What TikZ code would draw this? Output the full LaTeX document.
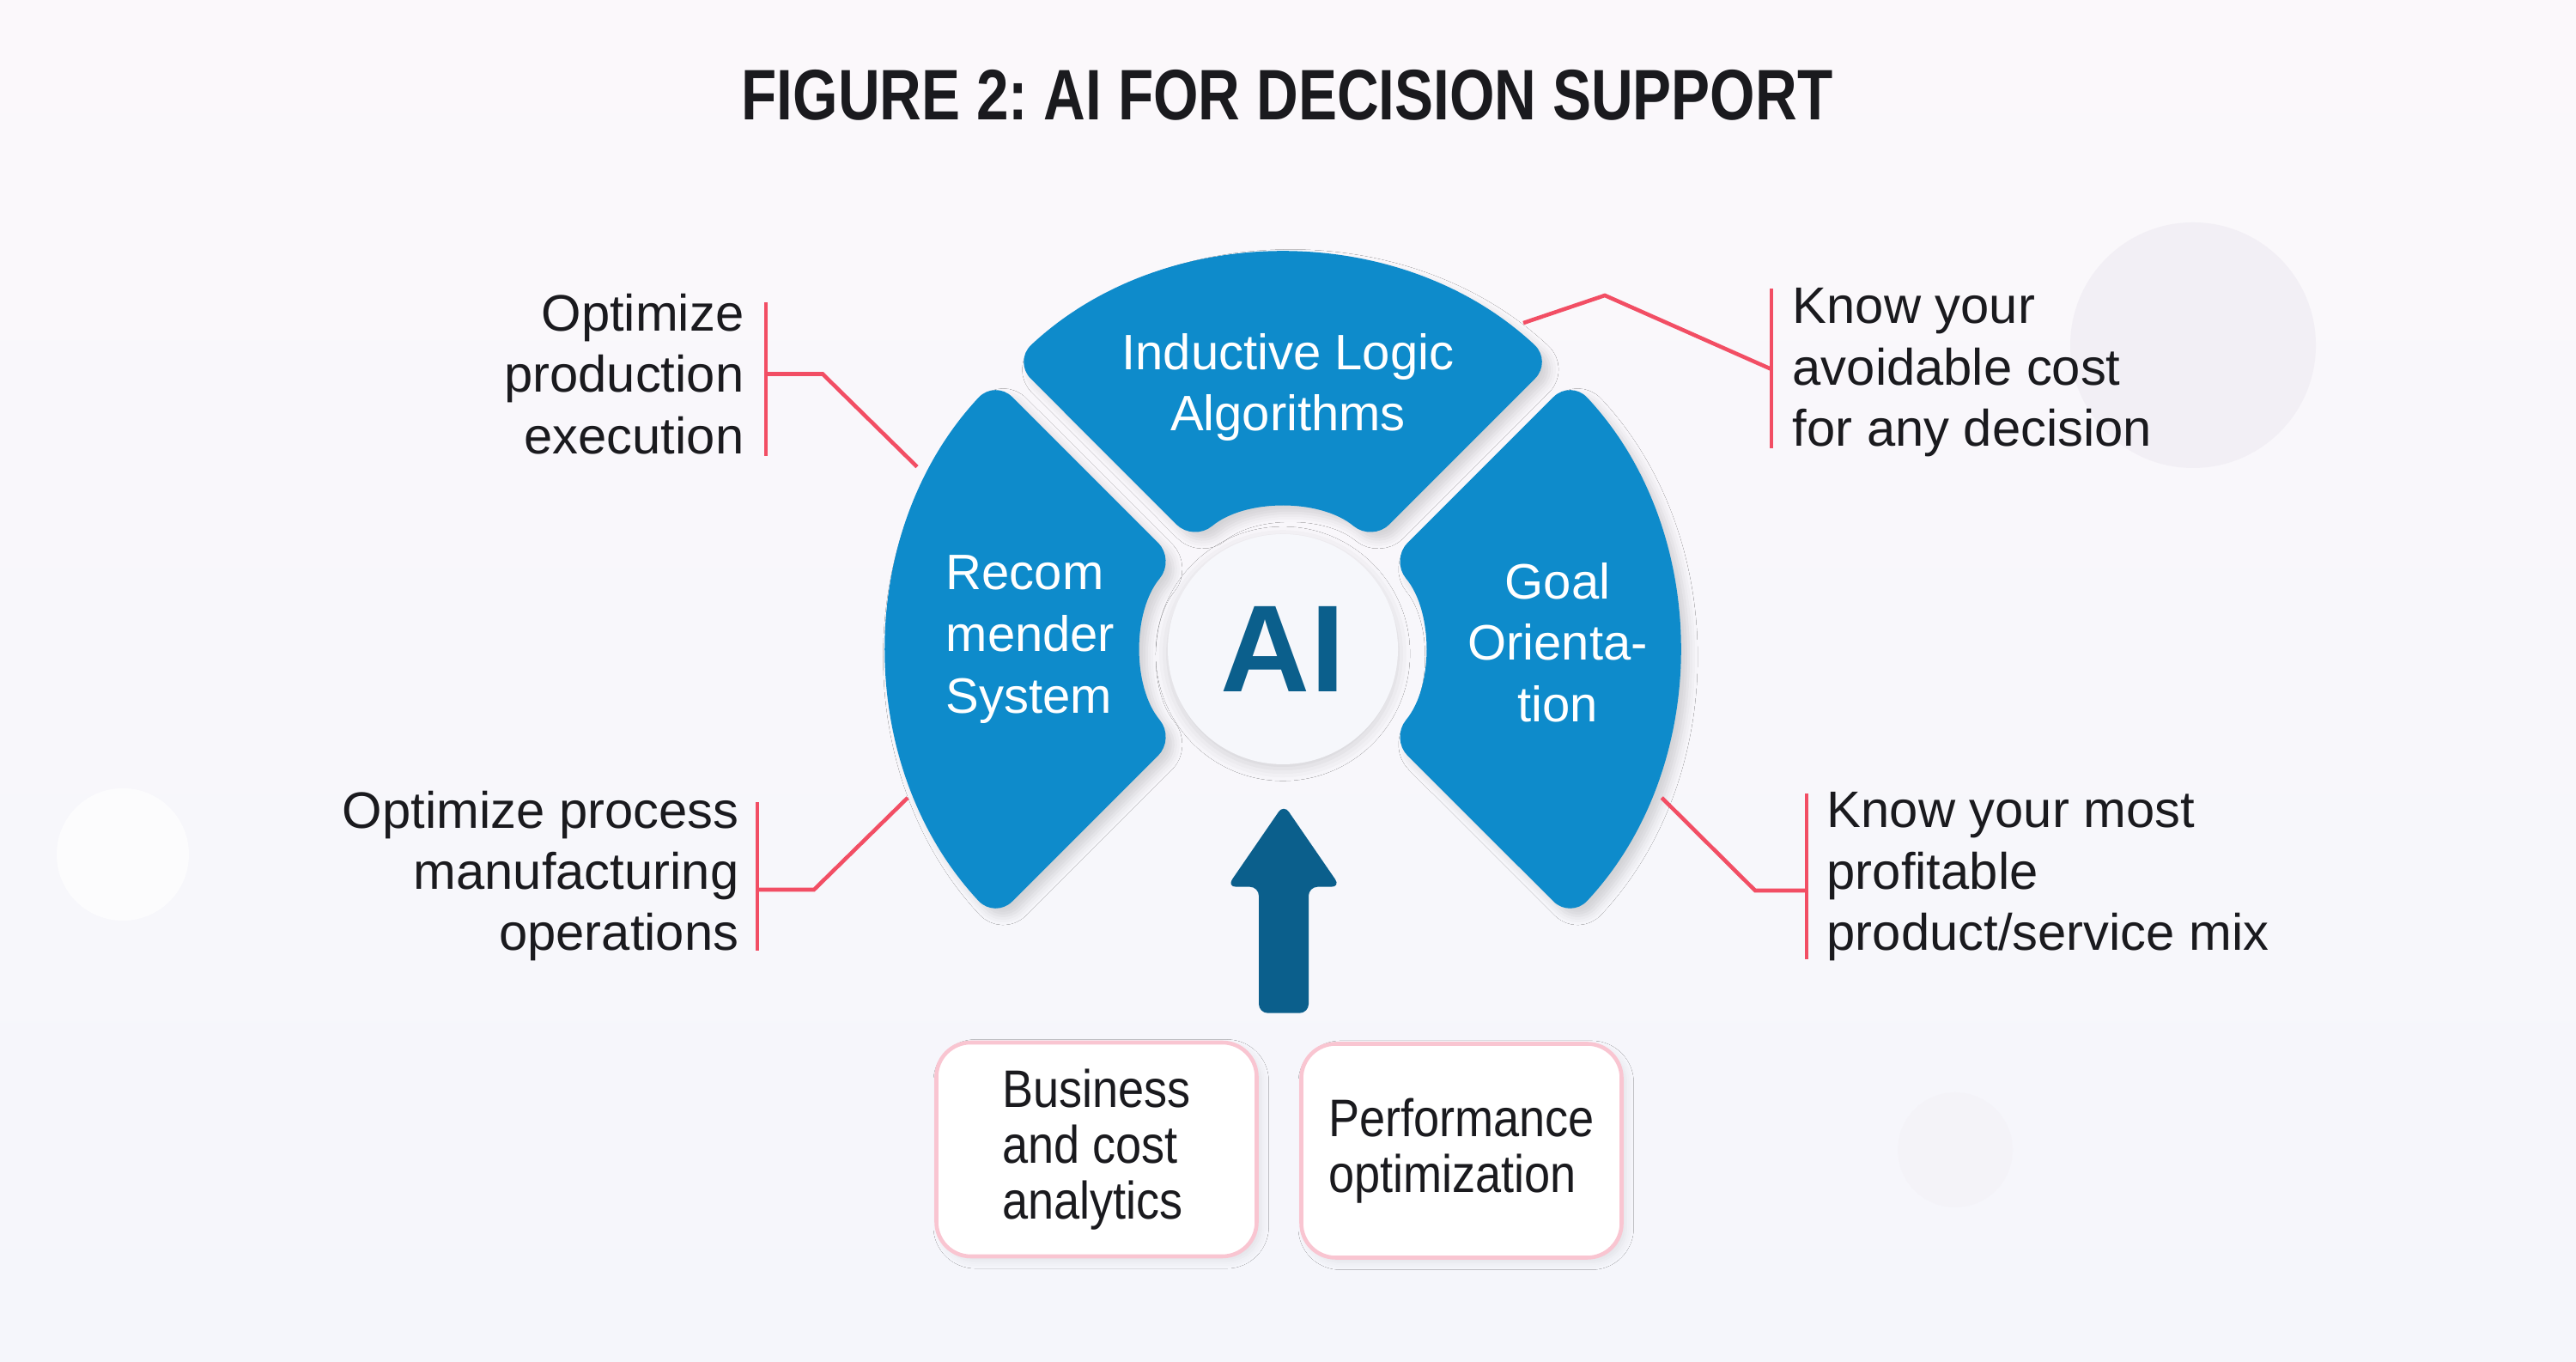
\documentclass[tikz,border=0pt]{standalone}
\usepackage{fontspec}
\setmainfont{Liberation Sans}
\newfontfamily\boxfont[FakeStretch=0.88]{Liberation Sans}
\newfontfamily\titlefont[FakeStretch=0.81]{Liberation Sans}
\usetikzlibrary{calc,shadows.blur}
\frenchspacing

\definecolor{segblue}{RGB}{14,139,203}
\definecolor{deepblue}{RGB}{11,95,140}
\definecolor{linered}{RGB}{242,78,100}
\definecolor{boxpink}{RGB}{249,197,209}
\definecolor{bgtop}{RGB}{251,248,251}
\definecolor{bgbottom}{RGB}{245,246,251}
\definecolor{blobgray}{RGB}{242,239,245}
\definecolor{aifill}{RGB}{246,247,251}
\definecolor{inkblack}{RGB}{26,26,30}

\begin{document}
\begin{tikzpicture}[
    seg/.style={fill=segblue, rounded corners=8pt,
        blur shadow={shadow xshift=2.5pt, shadow yshift=-2.5pt, shadow blur radius=3pt, shadow opacity=15}},
    segtext/.style={text=white, font=\fontsize{16.5}{20.4}\selectfont, inner sep=0pt},
    sidenote/.style={text=inkblack, font=\fontsize{17}{20.3}\selectfont, inner sep=0pt},
    bracket/.style={draw=linered, line width=1.3pt},
    bizbox/.style={draw=boxpink, line width=1.3pt, fill=white, rounded corners=0.4cm,
        minimum width=3.73cm, minimum height=2.49cm, align=left, text=inkblack,
        font=\boxfont\fontsize{17.5}{18.4}\selectfont,
        blur shadow={shadow xshift=1.5pt, shadow yshift=-1.5pt, shadow blur radius=2.5pt, shadow opacity=8}},
    aidisc/.style={circle, fill=aifill, minimum size=2.68cm, inner sep=0pt, text=deepblue,
        font=\bfseries\fontsize{41}{41}\selectfont,
        blur shadow={shadow xshift=0pt, shadow yshift=-1.5pt, shadow blur radius=4pt, shadow opacity=15}}
]

        % 背景
        \useasboundingbox (0,0) rectangle (30,15.86);
        \shade[top color=bgtop, bottom color=bgbottom] (0,0) rectangle (30,15.86);
        \fill[blobgray] (25.54,11.84) circle (1.43);
        \fill[white, opacity=0.7] (1.43,5.91) circle (0.77);
        \fill[blobgray, opacity=0.35] (22.77,2.47) circle (0.67);

        % タイトル
        \node[anchor=base, text=inkblack, font=\titlefont\bfseries\fontsize{23.7}{28}\selectfont] (title) at (14.99,14.46) {FIGURE 2: AI FOR DECISION SUPPORT};

        % 三つの扇形
        \coordinate (C) at (14.94,8.30);
        \begin{scope}[shift={(C)}]
        \foreach \a/\b in {45/135, 135/225, -45/45}
            \fill[seg] ({\a+1.9}:4.59) arc[start angle=\a+1.9, end angle=\b-1.9, radius=4.59]
                -- ({\b-5.3}:1.63) arc[start angle=\b-5.3, end angle=\a+5.3, radius=1.63] -- cycle;
        \end{scope}

        \node[segtext, align=center] (sTop) at (15.0,11.35) {Inductive Logic\\Algorithms};
        \node[segtext, align=left, anchor=west] (sLeft) at (11.01,8.415) {Recom\\mender\\System};
        \node[segtext, align=center] (sRight) at (18.14,8.38) {Goal\\Orienta-\\tion};

        % 中央の円
        \node[aidisc] (ai) at (C) {AI};

        % 説明文
        \node[sidenote, align=right, anchor=east] (n1) at (8.67,11.505) {Optimize\\production\\execution};
        \node[sidenote, align=right, anchor=east] (n2) at (8.61,5.66) {Optimize process\\manufacturing\\operations};
        \node[sidenote, align=left, anchor=west] (n3) at (20.87,11.52) {Know your\\avoidable cost\\for any decision};
        \node[sidenote, align=left, anchor=west] (n4) at (21.27,5.65) {Know your most\\profitable\\product/service mix};

        % 扇形の縁の点
        \coordinate (e1) at ($(C)+(153.5:4.76)$);
        \coordinate (e2) at ($(C)+(201.6:4.70)$);
        \coordinate (e3) at ($(C)+(53.6:4.72)$);
        \coordinate (e4) at ($(C)+(-21.4:4.74)$);

        % 赤い括弧線
        \draw[bracket] ($(n1.north east)+(0.25,-0.11)$) -- ($(n1.south east)+(0.25,-0.02)$);
        \draw[bracket] ($(n1.east)+(0.25,0)$) -- ++(0.66,0) -- (e1);
        \draw[bracket] ($(n2.north east)+(0.21,-0.14)$) -- ($(n2.south east)+(0.21,0.125)$);
        \draw[bracket] ($(n2.east)+(0.21,-0.16)$) -- ++(0.66,0) -- (e2);
        \draw[bracket] ($(n3.north west)+(-0.24,-0.01)$) -- ($(n3.south west)+(-0.24,0.105)$);
        \draw[bracket] ($(n3.west)+(-0.24,0.04)$) -- ++(-1.94,0.86) -- (e3);
        \draw[bracket] ($(n4.north west)+(-0.23,-0.02)$) -- ($(n4.south west)+(-0.23,0.025)$);
        \draw[bracket] ($(n4.west)+(-0.23,-0.16)$) -- ++(-0.60,0) -- (e4);

        % 下の矢印
        \coordinate (atip) at ($(ai.south)+(0.01,-0.46)$);
        \fill[deepblue, rounded corners=3pt] (atip) -- ++(0.66,-0.96) -- ++(-0.37,0) -- ++(0,-1.47)
            -- ++(-0.58,0) -- ++(0,1.47) -- ++(-0.37,0) -- cycle;

        % 下の二つの箱
        \node[bizbox] (b1) at (12.77,2.475) {Business\\and cost\\analytics};
        \node[bizbox] (b2) at (17.02,2.46) {Performance\\optimization};

\end{tikzpicture}
\end{document}
